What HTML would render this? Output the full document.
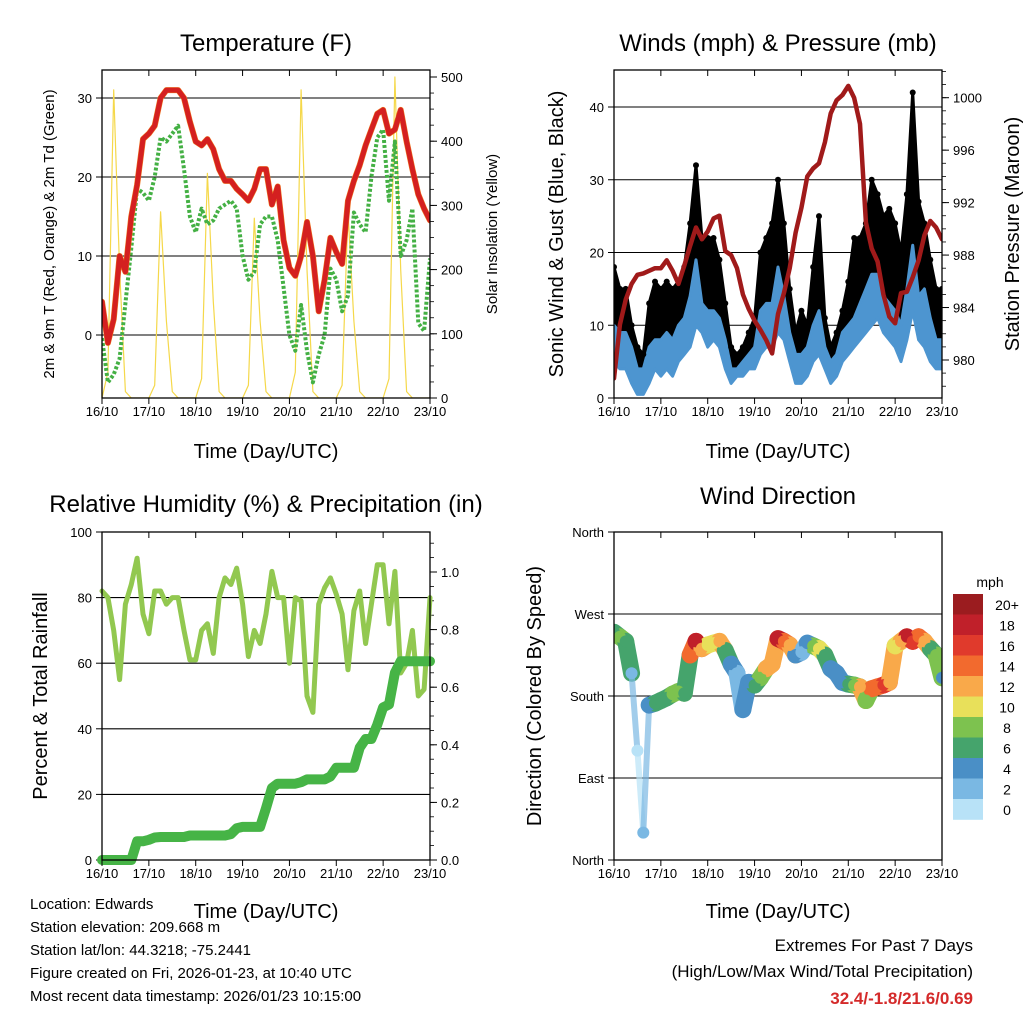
<!DOCTYPE html>
<html><head><meta charset="utf-8"><style>
html,body{margin:0;padding:0;background:#fff;}
svg{display:block;font-family:"Liberation Sans",sans-serif;}
</style></head><body>
<svg id="s" width="1024" height="1024" viewBox="0 0 1024 1024" xmlns="http://www.w3.org/2000/svg">
<rect width="1024" height="1024" fill="#fff"/>
<g id="g"></g>
<text x="266" y="51" font-size="24" text-anchor="middle">Temperature (F)</text>
<text x="778" y="51" font-size="24" text-anchor="middle">Winds (mph) &amp; Pressure (mb)</text>
<text x="266" y="512" font-size="24" text-anchor="middle">Relative Humidity (%) &amp; Precipitation (in)</text>
<text x="778" y="504" font-size="24" text-anchor="middle">Wind Direction</text>
<text x="266" y="458" font-size="20" text-anchor="middle">Time (Day/UTC)</text>
<text x="778" y="458" font-size="20" text-anchor="middle">Time (Day/UTC)</text>
<text x="266" y="918" font-size="20" text-anchor="middle">Time (Day/UTC)</text>
<text x="778" y="918" font-size="20" text-anchor="middle">Time (Day/UTC)</text>
<text transform="translate(54,234) rotate(-90)" font-size="15" text-anchor="middle">2m &amp; 9m T (Red, Orange) &amp; 2m Td (Green)</text>
<text transform="translate(497,234) rotate(-90)" font-size="15" text-anchor="middle">Solar Insolation (Yellow)</text>
<text transform="translate(563,234) rotate(-90)" font-size="20" text-anchor="middle">Sonic Wind &amp; Gust (Blue, Black)</text>
<text transform="translate(1019,234) rotate(-90)" font-size="20" text-anchor="middle">Station Pressure (Maroon)</text>
<text transform="translate(47,696) rotate(-90)" font-size="20" text-anchor="middle">Percent &amp; Total Rainfall</text>
<text transform="translate(541,696) rotate(-90)" font-size="20" text-anchor="middle">Direction (Colored By Speed)</text>
<g font-size="15">
<text x="30" y="909">Location: Edwards</text>
<text x="30" y="932">Station elevation: 209.668 m</text>
<text x="30" y="955">Station lat/lon: 44.3218; -75.2441</text>
<text x="30" y="978">Figure created on Fri, 2026-01-23, at 10:40 UTC</text>
<text x="30" y="1001">Most recent data timestamp: 2026/01/23 10:15:00</text>
</g>
<g font-size="17" text-anchor="end">
<text x="973" y="951">Extremes For Past 7 Days</text>
<text x="973" y="977">(High/Low/Max Wind/Total Precipitation)</text>
<text x="973" y="1004" fill="#d42a2a" font-weight="bold">32.4/-1.8/21.6/0.69</text>
</g>
</svg>
<script>
const dayLabels=["16/10","17/10","18/10","19/10","20/10","21/10","22/10","23/10"];
const temp=[4.2,-1,2,10,8,15,19,24.8,25.5,26.5,30,31,31,31,30,27,24.5,24,24.8,23.5,21,19.5,19.5,18.5,17.8,17,18.5,21,21,16.5,18.8,12,8.5,7.5,10,14.3,10,3,7,12.3,10.5,9,17,19.5,21.5,24,26,28,28.5,25.5,26,28.5,24.5,21,17.8,16,14.5];
const dewpt=[-0.4,-6,-5,-3,4,11,18.5,18,17,20,25,24.5,25.5,26.5,21,15,13,16,14,14.5,16,16.5,17,16,10,7,8,14,15,15,12,6,0,-2,3.8,-2,-6,-2.5,0,8.4,7,3,5,15.5,14,13,20,25,26,17,24.5,10,12,16,1.5,0.5,9.7];
const solar=[0,40,480,200,10,0,0,0,0,20,290,120,10,0,0,0,0,30,350,150,10,0,0,0,0,20,280,120,10,0,0,0,0,40,480,200,10,0,0,0,0,20,290,120,10,0,0,0,0,30,500,200,10,0,0,0,0];
const pressure=[978.6,982.7,984.6,985.8,986.5,986.6,986.8,987,987,987.6,986.8,985.8,987.2,988.7,990.1,989.2,989.8,990.8,991,988.3,988,987,985,983.9,983,982.3,981.5,980.5,983.5,985.1,987,989.7,991.6,994,994.6,995,996.6,998.8,999.8,1000.2,1000.9,1000,998,990.5,988.5,987.5,985,983.3,982.8,985.1,985.2,986.3,987.6,989.5,990.6,990.1,989.2];
const windLow=[5,4,4,2,0.5,0.5,2,4,3,4,3,5,6,7,10,9,7,8,7,4,2,3,3,4,4,6,7,7,9,8,5,2,2,3,5,6,4,2,3,5,6,7,8,9,10,11,9,8,7,5,8,12,8,7,5,4,4];
const windMean=[10,9,9,7,4,4,7,8,8,9,8,10,11,14,19,13,12,12,11,8,4,4,5,6,7,12,13,13,18,14,9,6,6,7,10,12,7,5,6,9,10,11,13,15,17,17,14,13,12,10,15,21,14,15,11,8,8];
const gust=[18,15,15,10,7,6,13,16,15,16,15,16,18,24,32,22,22,22,19,13,7,6,7,9,11,20,22,24,30,24,15,9,12,10,18,25,11,7,9,12,16,22,22,24,30,28,25,26,24,20,28,42,27,24,19,15,15];
const rh=[82,80,70,55,78,84,92,75,69,82,82,78,80,80,70,61,61,70,72,63,80,86,84,89,78,62,70,66,75,88,80,80,60,80,79,50,45,78,83,86,81,75,58,76,82,66,78,90,90,72,88,57,60,70,50,52,80];
const precip=[0,0,0,0,0,0,0.065,0.065,0.07,0.078,0.08,0.08,0.08,0.08,0.08,0.085,0.085,0.085,0.085,0.085,0.085,0.085,0.09,0.11,0.115,0.115,0.115,0.115,0.18,0.25,0.265,0.265,0.265,0.265,0.27,0.28,0.28,0.28,0.28,0.29,0.32,0.32,0.32,0.32,0.39,0.42,0.42,0.47,0.53,0.54,0.65,0.69,0.69,0.69,0.69,0.69,0.69];
const windDir=[250,245,240,205,120,30,170,172,175,178,182,185,183,225,240,232,236,238,240,230,215,205,165,195,192,200,210,215,243,240,236,225,228,238,235,232,225,210,205,195,193,192,190,175,188,190,192,195,235,240,245,240,245,240,232,225,200];
const windSpd=[7,8,6,3,1,2,4,6,7,7,8,8,6,15,18,12,11,10,12,7,4,3,4,4,6,9,13,12,18,15,12,4,3,5,9,10,6,4,4,5,7,8,12,9,15,15,16,13,10,12,18,17,14,13,7,8,5];
const spdLabels=["20+","18","16","14","12","10","8","6","4","2","0"];
const spdColors=["#9b1c1f","#c0202a","#e03a2c","#f26a2e","#f9a94a","#e8e05a","#7dc24f","#45a46c","#4a8fc6","#7ab8e3","#b8e2f7"];

const NS="http://www.w3.org/2000/svg";
const G=document.getElementById('g');
function mk(tag,attrs,parent){const e=document.createElementNS(NS,tag);for(const k in attrs)e.setAttribute(k,attrs[k]);(parent||G).appendChild(e);return e;}
function lin(d0,d1,r0,r1){return v=>r0+(v-d0)/(d1-d0)*(r1-r0);}
const N=temp.length;
function panel(x0,x1,y0,y1){return {x0,x1,y0,y1,xi:lin(0,N-1,x0,x1)};}
const P1=panel(102,430,70,398),P2=panel(614,942,70,398),P3=panel(102,430,532,860),P4=panel(614,942,532,860);

function frame(P,name){
  const f=mk('rect',{x:P.x0,y:P.y0,width:P.x1-P.x0,height:P.y1-P.y0,fill:'none',stroke:'#000','stroke-width':1.3});
  
  
  const dx=lin(0,7,P.x0,P.x1);
  for(let d=0;d<=7;d++){
    const x=dx(d);
    mk('line',{x1:x,x2:x,y1:P.y1,y2:P.y1+6,stroke:'#000','stroke-width':1});
    mk('line',{x1:x,x2:x,y1:P.y0,y2:P.y0+6,stroke:'#000','stroke-width':1});
    const t=mk('text',{x:x,y:P.y1+18,'font-size':13,'text-anchor':'middle'});
    t.textContent=dayLabels[d];
    
    
  }
}
function leftAxis(P,sc,vals,labels,name,grid){
  vals.forEach((v,i)=>{const y=sc(v);
    if(grid) mk('line',{x1:P.x0,x2:P.x1,y1:y,y2:y,stroke:'#000','stroke-width':1.1});
    mk('line',{x1:P.x0-6,x2:P.x0,y1:y,y2:y,stroke:'#000'});
    const t=mk('text',{x:P.x0-10,y:y+5,'font-size':13,'text-anchor':'end'});
    t.textContent=labels[i];
    
    
  });
}
function rightAxis(P,sc,vals,labels,name,minorVals){
  (minorVals||[]).forEach(v=>{const y=sc(v);mk('line',{x1:P.x1,x2:P.x1+4,y1:y,y2:y,stroke:'#000','stroke-width':0.8});});
  vals.forEach((v,i)=>{const y=sc(v);
    mk('line',{x1:P.x1,x2:P.x1+7,y1:y,y2:y,stroke:'#000'});
    const t=mk('text',{x:P.x1+11,y:y+5,'font-size':13,'text-anchor':'start'});
    t.textContent=labels[i];
    
    
  });
}
function path(P,arr,sc,attrs,name,parent){
  let d='';arr.forEach((v,i)=>{d+=(i?'L':'M')+P.xi(i).toFixed(1)+','+sc(v).toFixed(1);});
  const e=mk('path',Object.assign({d:d,fill:'none','stroke-linejoin':'round','stroke-linecap':'round'},attrs),parent);
  
  
  return e;
}
function band(P,lo,hi,sc,fill,name,parent){
  let d='';hi.forEach((v,i)=>{d+=(i?'L':'M')+P.xi(i).toFixed(1)+','+sc(v).toFixed(1);});
  for(let i=lo.length-1;i>=0;i--)d+='L'+P.xi(i).toFixed(1)+','+sc(lo[i]).toFixed(1);
  const e=mk('path',{d:d+'Z',fill:fill,stroke:fill,'stroke-width':3,'stroke-linejoin':'round'},parent);
  
  
}
function range(a,b,s){const r=[];for(let v=a;v<=b+1e-9;v+=s)r.push(+v.toFixed(3));return r;}

// Panel 1: temperature
const tY=lin(0,30,335,98), sY=lin(0,500,398,77);
const cp1=mk('clipPath',{id:'c1'});mk('rect',{x:P1.x0,y:P1.y0,width:328,height:328},cp1);
leftAxis(P1,tY,[0,10,20,30],["0","10","20","30"],'temp-y',true);
rightAxis(P1,sY,[0,100,200,300,400,500],["0","100","200","300","400","500"],'solar-y',range(0,500,25));
const g1=mk('g',{'clip-path':'url(#c1)'});
path(P1,solar,sY,{stroke:'#f5d84a','stroke-width':1.2},'solar-line',g1);
path(P1,dewpt,tY,{stroke:'#44b044','stroke-width':4,'stroke-dasharray':'3 2','stroke-linecap':'butt'},'dewpoint-line',g1);
path(P1,temp,tY,{stroke:'#f07a20','stroke-width':6},'temp-9m-line',g1);
path(P1,temp,tY,{stroke:'#d42020','stroke-width':5},'temp-2m-line',g1);
frame(P1,'temperature');

// Panel 2: winds & pressure
const wY=lin(0,40,398,107), pY=lin(980,1000,360,97.7);
leftAxis(P2,wY,[0,10,20,30,40],["0","10","20","30","40"],'wind-y',true);
rightAxis(P2,pY,[980,984,988,992,996,1000],["980","984","988","992","996","1000"],'pressure-y',range(978,1002,1));
const cp2=mk('clipPath',{id:'c2'});mk('rect',{x:P2.x0,y:P2.y0,width:328,height:328},cp2);
const g2=mk('g',{'clip-path':'url(#c2)'});
band(P2,windMean,gust,wY,'#000','gust-band',g2);
band(P2,windLow,windMean,wY,'#4d95d0','wind-band',g2);
gust.forEach((v,i)=>{const c=mk('circle',{cx:P2.xi(i),cy:wY(v),r:3,fill:'#000'},g2);
  
  });
path(P2,pressure,pY,{stroke:'#a01a1a','stroke-width':4.5},'pressure-line',g2);
frame(P2,'winds');

// Panel 3: RH & precip
const rY=lin(0,100,860,532), prY=lin(0,1,860,572);
leftAxis(P3,rY,[0,20,40,60,80,100],["0","20","40","60","80","100"],'rh-y',true);
rightAxis(P3,prY,[0,0.2,0.4,0.6,0.8,1.0],["0.0","0.2","0.4","0.6","0.8","1.0"],'precip-y',range(0,1.1,0.05));
const cp3=mk('clipPath',{id:'c3'});mk('rect',{x:P3.x0-6,y:P3.y0,width:340,height:334},cp3);
const g3=mk('g',{'clip-path':'url(#c3)'});
path(P3,rh,rY,{stroke:'#92c850','stroke-width':5},'rh-line',g3);
path(P3,precip,prY,{stroke:'#46b446','stroke-width':10},'precip-line',g3);
frame(P3,'humidity');

// Panel 4: wind direction
const dY=lin(0,360,860,532);
leftAxis(P4,dY,[0,90,180,270,360],["North","East","South","West","North"],'dir-y',true);
const cp4=mk('clipPath',{id:'c4'});mk('rect',{x:P4.x0,y:P4.y0,width:328,height:328},cp4);
const g4=mk('g',{'clip-path':'url(#c4)'});
function sc(s){let k=Math.floor(s/2);if(k>10)k=10;return spdColors[10-k];}
for(let i=0;i<N-1;i++){
  const jump=Math.abs(windDir[i+1]-windDir[i])>60;
  const l=mk('line',{x1:P4.xi(i),y1:dY(windDir[i]),x2:P4.xi(i+1),y2:dY(windDir[i+1]),stroke:sc(windSpd[i]),'stroke-width':jump?6:17,'stroke-linecap':'round','stroke-opacity':jump?0.7:1},g4);
  
  
}
windDir.forEach((v,i)=>{const c=mk('circle',{cx:P4.xi(i),cy:dY(v),r:6,fill:sc(windSpd[i])},g4);
  
  });
frame(P4,'wind-direction');
// colorbar
const cbT=mk('text',{x:990,y:587,'font-size':14,'text-anchor':'middle'});cbT.textContent='mph';


spdColors.forEach((c,i)=>{const y=594+i*20.5;
  const r=mk('rect',{x:953,y:y,width:30,height:20.8,fill:c});
  
  
  const t=mk('text',{x:1007,y:y+16,'font-size':14,'text-anchor':'middle'});t.textContent=spdLabels[i];
  
  
});
</script>
</body></html>
